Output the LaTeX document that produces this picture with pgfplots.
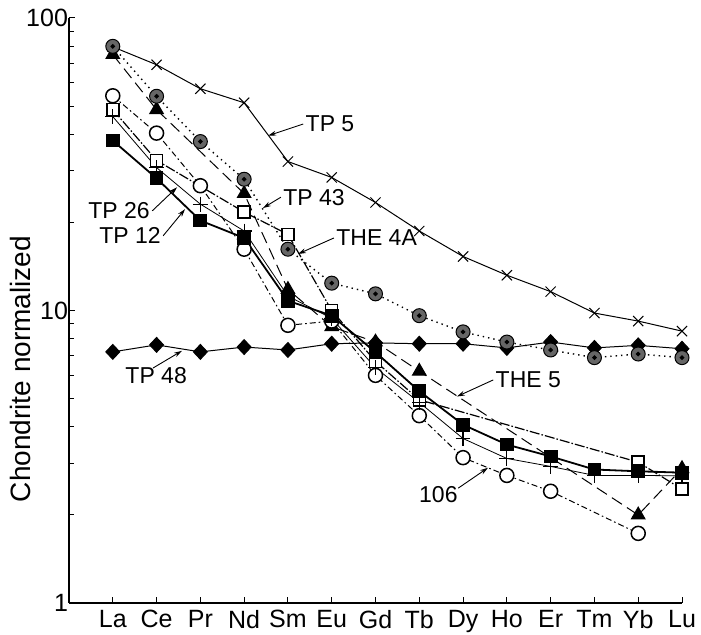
\documentclass[border=0pt]{standalone}
\usepackage{fontspec}
\setmainfont{Liberation Sans}
\usepackage{pgfplots}
\pgfplotsset{compat=1.18}
\usetikzlibrary{arrows.meta}

\begin{document}
\begin{tikzpicture}
\path[use as bounding box] (-34.5pt,-16pt) rectangle (316pt,301.5pt);
\begin{axis}[
  scale only axis,
  width=306.5pt, height=292.5pt,
  xmin=0, xmax=14,
  ymode=log, ymin=1, ymax=100,
  axis lines*=left,
  clip=false,
  xtick={1,...,14},
  xticklabels={La,Ce,Pr,Nd,Sm,Eu,Gd,Tb,Dy,Ho,Er,Tm,Yb,Lu},
  ytick={1,10,100},
  yticklabels={1,10,100},
  minor ytick={2,3,4,5,6,7,8,9,20,30,40,50,60,70,80,90},
  tick align=inside,
  major tick length=3pt,
  minor tick length=2.5pt,
  tick style={black, line width=0.5pt},
  axis line style={line width=0.6pt},
  ticklabel style={font=\fontsize{12.5}{14}\selectfont},
  yticklabel style={xshift=3pt},
  ylabel={Chondrite normalized},
  ylabel style={font=\fontsize{14}{16}\selectfont,
    at={(axis description cs:-0.079,0.40)}, anchor=center},
  every axis plot/.append style={black, line width=0.5pt},
]
% TP 5
\addplot[mark=x, mark size=3.6pt, mark options={solid}] coordinates {
 (1,79.7) (2,69.2) (3,57.3) (4,51.3) (5,32.3) (6,28.5) (7,23.4)
 (8,18.7) (9,15.3) (10,13.2) (11,11.6) (12,9.8) (13,9.2) (14,8.5)};
% TP 48
\addplot[mark=diamond*, mark size=3.7pt, mark options={solid, xscale=1.25}] coordinates {
 (1,7.22) (2,7.63) (3,7.22) (4,7.5) (5,7.33) (6,7.7) (7,7.75)
 (8,7.7) (9,7.7) (10,7.45) (11,7.8) (12,7.45) (13,7.6) (14,7.4)};
% THE 5
\addplot[dash pattern=on 6pt off 3pt, mark=triangle*, mark size=3.9pt, mark options={solid}] coordinates {
 (1,75) (2,48.6) (4,25.1) (5,11.8) (6,8.8) (7,7.8) (8,6.2) (13,2.0) (14,2.88)};
% 106
\addplot[dash pattern=on 3pt off 1.5pt on 0.8pt off 1.5pt, mark=*, mark size=3.5pt,
  mark options={solid, fill=white, draw=black, line width=0.75pt}] coordinates {
 (1,54.2) (2,40.4) (3,26.7) (4,16.2) (5,8.9) (6,9.2) (7,6.0)
 (8,4.37) (9,3.14) (10,2.73) (11,2.41) (13,1.73)};
% THE 4A
\addplot[line width=0.6pt, dash pattern=on 5pt off 1pt on 0.8pt off 1pt, mark=square*, mark size=3pt,
  mark options={solid, fill=white, draw=black, line width=0.75pt}] coordinates {
 (1,48.6) (2,32.6) (4,21.7) (5,18.2) (6,10.0) (7,6.7) (8,4.95) (13,3.03) (14,2.45)};
% TP 26
\addplot[line width=0.4pt, mark=+, mark size=3.7pt, mark options={solid, line width=0.6pt}] coordinates {
 (1,46) (2,30.8) (3,23.1) (4,18.7) (5,11.2) (6,9.4) (7,6.37)
 (8,4.85) (9,3.65) (10,3.12) (11,2.93) (12,2.73) (13,2.73) (14,2.72)};
% TP 12
\addplot[line width=0.9pt, mark=square*, mark size=3pt, mark options={solid}] coordinates {
 (1,38.1) (2,28.3) (3,20.3) (4,17.7) (5,10.8) (6,9.6) (7,7.2)
 (8,5.3) (9,4.07) (10,3.48) (11,3.17) (12,2.86) (13,2.82) (14,2.79)};
% TP 43: grey discs, then their black centre dots
\addplot[line width=0.7pt, dotted, mark=*, mark size=3.5pt,
  mark options={solid, fill=black!60, draw=black, line width=0.5pt}] coordinates {
 (1,80) (2,54) (3,37.8) (4,28.1) (5,16.2) (6,12.4) (7,11.4)
 (8,9.6) (9,8.45) (10,7.8) (11,7.33) (12,6.9) (13,7.1) (14,6.9)};
\addplot[only marks, mark=*, mark size=0.9pt, mark options={fill=black}] coordinates {
 (1,80) (2,54) (3,37.8) (4,28.1) (5,16.2) (6,12.4) (7,11.4)
 (8,9.6) (9,8.45) (10,7.8) (11,7.33) (12,6.9) (13,7.1) (14,6.9)};

% labels
\begin{scope}[every node/.style={font=\fontsize{11.5}{13}\selectfont, inner sep=1pt},
  >={Stealth[length=4pt,width=2.4pt]}, line width=0.45pt]
\node[anchor=west] (tp5) at (axis cs:5.35,43.4) {TP 5};
\draw[->] (tp5.west) -- (axis cs:4.55,39.6);
\node[anchor=west] (tp43) at (axis cs:4.84,24.4) {TP 43};
\draw[->] (tp43.west) -- (axis cs:4.43,22.4);
\node[anchor=west] (the4a) at (axis cs:6.05,17.7) {THE 4A};
\draw[->] (the4a.west) -- (axis cs:5.23,15.6);
\node[anchor=east] (tp26) at (axis cs:1.90,21.9) {TP 26};
\draw[->] (tp26.east) -- (axis cs:2.47,26.4);
\node[anchor=east] (tp12) at (axis cs:2.15,18.0) {TP 12};
\draw[->] (tp12.east) -- (axis cs:2.65,22.2);
\node[anchor=west] (the5) at (axis cs:9.69,5.79) {THE 5};
\draw[->] (the5.west) -- (axis cs:8.86,5.08);
\node[anchor=east] at (axis cs:8.93,2.34) {106};
\draw[->] (axis cs:8.89,2.47) -- (axis cs:9.57,2.90);
\node at (axis cs:1.99,5.97) {TP 48};
\draw[->] (axis cs:1.92,6.36) -- (axis cs:2.58,7.28);
\end{scope}
\end{axis}
\end{tikzpicture}
\end{document}
